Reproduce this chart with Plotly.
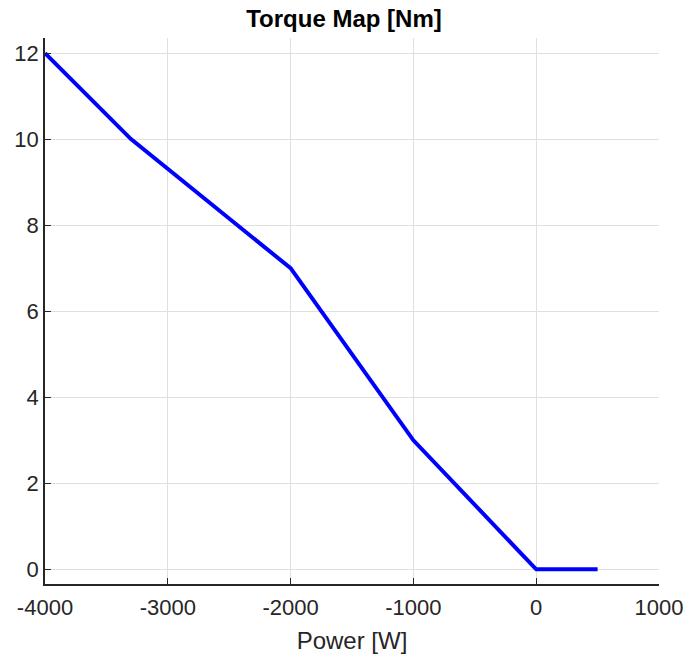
import plotly.graph_objects as go

power_w = [-4000, -3300, -2000, -1000, 0, 500]
torque_nm = [12, 10, 7, 3, 0, 0]
x_ticks = [-4000, -3000, -2000, -1000, 0, 1000]
y_ticks = [0, 2, 4, 6, 8, 10, 12]

fig = go.Figure()
fig.add_trace(go.Scatter(x=power_w, y=torque_nm, mode="lines",
                         line=dict(color="#0000FF", width=4), showlegend=False))

font = "Liberation Sans, Arial, sans-serif"
fig.update_layout(
    width=688, height=657,
    margin=dict(l=45, r=29, t=38, b=73),
    paper_bgcolor="white", plot_bgcolor="white",
    font=dict(family=font, color="#262626", size=22),
    title=dict(text="<b>Torque Map [Nm]</b>", x=0.5, xanchor="center",
               y=1 - 10/657, yanchor="top", font=dict(size=24, color="black")),
)
fig.update_xaxes(range=[-4000, 1000], tickvals=x_ticks, ticktext=[str(v) for v in x_ticks],
                 automargin=False,
                 showgrid=True, gridcolor="#dfdfdf", gridwidth=1, zeroline=False,
                 showline=True, linecolor="#262626", linewidth=1.5,
                 ticks="inside", ticklen=6, tickcolor="#262626",
                 tickfont=dict(size=22), ticklabelstandoff=3,
                 title=dict(text="Power [W]", font=dict(size=24), standoff=13))
fig.update_yaxes(range=[-0.34, 12.35], tickvals=y_ticks,
                 automargin=False,
                 showgrid=True, gridcolor="#dfdfdf", gridwidth=1, zeroline=False,
                 showline=True, linecolor="#262626", linewidth=1.5,
                 ticks="inside", ticklen=6, tickcolor="#262626",
                 tickfont=dict(size=22))
fig.write_html("out.html", config={"displayModeBar": False},
               post_script="document.body.style.margin='0';document.body.style.overflow='hidden';")
